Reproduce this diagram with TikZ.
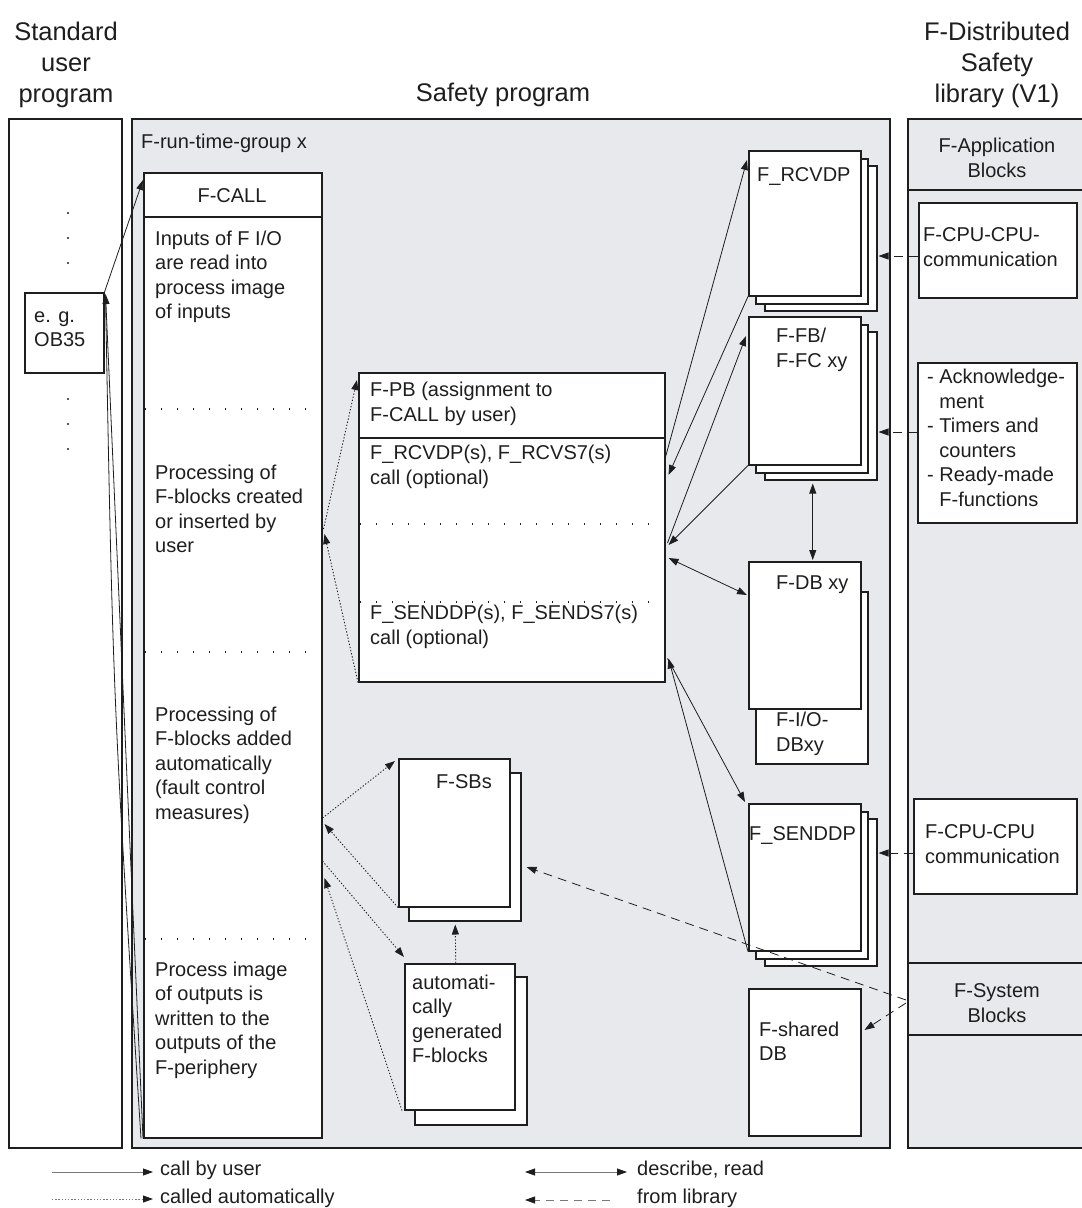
\documentclass[tikz,border=0pt]{standalone}
\usepackage{fontspec}
\setmainfont{Liberation Sans}
\usetikzlibrary{arrows.meta,calc}
\definecolor{panel}{RGB}{232,233,237}
\definecolor{ink}{RGB}{30,30,30}
\definecolor{leg}{RGB}{120,120,120}
\begin{document}
\begin{tikzpicture}[x=1pt,y=-1pt,
  bx/.style={draw=ink,line width=1.5pt,fill=white,inner sep=0pt,anchor=north west},
  pnl/.style={bx,fill=panel},
  tx/.style={inner sep=0pt,align=left,anchor=west,font=\fontsize{20}{24.5}\selectfont,text=ink},
  tb/.style={tx,anchor=base west},
  ttl/.style={inner sep=0pt,align=center,font=\fontsize{25.5}{31}\selectfont,text=ink},
  callarrow/.style={draw=ink,line width=0.8pt,-{Triangle[length=10pt,width=7pt,color=ink]}},
  autoarrow/.style={callarrow,line width=0.9pt,dash pattern=on 1.3pt off 1.9pt},
  libarrow/.style={callarrow,dash pattern=on 9pt off 6pt},
  bothway/.style={draw=ink,line width=0.8pt,{Triangle[length=10pt,width=7pt,color=ink]}-{Triangle[length=10pt,width=7pt,color=ink]}},
  sepline/.style={draw=ink,line width=1.1pt,dash pattern=on 1.3pt off 14.7pt},
  hline/.style={draw=ink,line width=1.5pt},
]
\useasboundingbox (0,0) rectangle (1082,1208);

% titles
\node[ttl] (t1) at (66,65) {Standard\\user\\program};
\node[ttl,anchor=base] (t2) at (503,101) {Safety program};
\node[ttl] (t3) at (997,65) {F-Distributed\\Safety\\library (V1)};

% columns
\node[bx,minimum width=113pt,minimum height=1029pt] (stdcol) at (8,118) {};
\node[pnl,minimum width=758pt,minimum height=1029pt] (safety) at (131,118) {};
\node[pnl,minimum width=177pt,minimum height=1029pt] (lib) at (907,118) {};
\node[pnl,minimum width=177pt,minimum height=71pt] (apphdr) at (907,118) {};
\node[pnl,minimum width=177pt,minimum height=72pt] (sysblk) at (907,962) {};

% standard user program column
\foreach \yy in {213,238,263,399,424,449} \fill[ink] (68,\yy) circle (1.2pt);
\node[bx,minimum width=79pt,minimum height=80pt] (ob35) at (24,292) {};
\node[tx] (ob35t) at (34,329) {e. g.\\OB35};

% safety program
\node[tb] (rtg) at (141,148) {F-run-time-group x};
\node[bx,minimum width=178pt,minimum height=965pt] (fcall) at (143,172) {};
\draw[hline] ($(fcall.north west)+(0,45)$) -- ($(fcall.north east)+(0,45)$);
\node[tx,anchor=base] (fcallt) at (232,202) {F-CALL};
\draw[sepline] ($(fcall.north west)+(2,237)$) -- ($(fcall.north east)+(-2,237)$);
\draw[sepline] ($(fcall.north west)+(2,480)$) -- ($(fcall.north east)+(-2,480)$);
\draw[sepline] ($(fcall.north west)+(2,767)$) -- ($(fcall.north east)+(-2,767)$);
\node[tx] (p1) at (155,277) {Inputs of F I/O\\are read into\\process image\\of inputs};
\node[tx] (p2) at (155,509) {Processing of\\F-blocks created\\or inserted by\\user};
\node[tx] (p3) at (155,765) {Processing of\\F-blocks added\\automatically\\(fault control\\measures)};
\node[tx] (p4) at (155,1020) {Process image\\of outputs is\\written to the\\outputs of the\\F-periphery};

% F-PB
\node[bx,minimum width=306pt,minimum height=309pt] (fpb) at (358,372) {};
\draw[hline] ($(fpb.north west)+(0,66)$) -- ($(fpb.north east)+(0,66)$);
\draw[sepline] ($(fpb.north west)+(2,152)$) -- ($(fpb.north east)+(-8,152)$);
\draw[sepline] ($(fpb.north west)+(2,230)$) -- ($(fpb.north east)+(-8,230)$);
\node[tx] (fpbt) at (370,404) {F-PB (assignment to\\F-CALL by user)};
\node[tx] (rcvt) at (370,467) {F\_RCVDP(s), F\_RCVS7(s)\\call (optional)};
\node[tx] (sndt) at (370,627) {F\_SENDDP(s), F\_SENDS7(s)\\call (optional)};

% F_RCVDP stack
\node[bx,minimum width=112pt,minimum height=145pt] (rcv3) at (764,165) {};
\node[bx,minimum width=112pt,minimum height=145pt] (rcv2) at (755,158) {};
\node[bx,minimum width=112pt,minimum height=145pt] (rcv) at (748,150) {};
\node[tb] (rcvl) at (757,181) {F\_RCVDP};

% F-FB stack
\node[bx,minimum width=112pt,minimum height=148pt] (ffb3) at (764,331) {};
\node[bx,minimum width=112pt,minimum height=148pt] (ffb2) at (755,324) {};
\node[bx,minimum width=112pt,minimum height=148pt] (ffb) at (748,316) {};
\node[tx] (ffbl) at (776,350) {F-FB/\\F-FC xy};

% F-DB
\node[bx,minimum width=112pt,minimum height=172pt] (fio) at (755,591) {};
\node[bx,minimum width=112pt,minimum height=147pt] (fdb) at (748,561) {};
\node[tb] (fdbl) at (776,589) {F-DB xy};
\node[tx] (fiol) at (776,734) {F-I/O-\\DBxy};

% F_SENDDP stack
\node[bx,minimum width=112pt,minimum height=147pt] (snd3) at (764,818) {};
\node[bx,minimum width=112pt,minimum height=147pt] (snd2) at (755,811) {};
\node[bx,minimum width=112pt,minimum height=147pt] (snd) at (748,803) {};
\node[tb] (sndl) at (749,840) {F\_SENDDP};

% F-shared DB
\node[bx,minimum width=112pt,minimum height=147pt] (fshared) at (748,988) {};
\node[tx] (fsharedl) at (759,1041) {F-shared\\DB};

% F-SBs
\node[bx,minimum width=112pt,minimum height=148pt] (sbs2) at (408,772) {};
\node[bx,minimum width=111pt,minimum height=148pt] (sbs) at (398,758) {};
\node[tb] (sbsl) at (436,788) {F-SBs};

% automatically generated
\node[bx,minimum width=112pt,minimum height=148pt] (aut2) at (414,976) {};
\node[bx,minimum width=110pt,minimum height=146pt] (aut) at (404,963) {};
\node[tx] (autl) at (412,1019) {automati-\\cally\\generated\\F-blocks};

% library
\node[tx,anchor=center,align=center] (appl) at (997,158) {F-Application\\Blocks};
\node[bx,minimum width=158pt,minimum height=95pt] (cpua) at (918,202) {};
\node[tx] (cpual) at (923,247) {F-CPU-CPU-\\communication};
\node[bx,minimum width=159pt,minimum height=160pt] (ack) at (917,362) {};
\node[tx] (ackl) at (927,438) {- Acknowledge-\\\phantom{- }ment\\- Timers and\\\phantom{- }counters\\- Ready-made\\\phantom{- }F-functions};
\node[bx,minimum width=163pt,minimum height=95pt] (cpub) at (913,798) {};
\node[tx] (cpubl) at (925,844) {F-CPU-CPU\\communication};
\node[tx,anchor=center,align=center] (sysl) at (997,1003) {F-System\\Blocks};

% connectors: call by user
\draw[callarrow] (ob35.north east) -- ($(fcall.north west)+(0,8)$);
\draw[callarrow] (fcall.south west) -- ($(ob35.north east)+(1,2)$);
\draw[draw=ink,line width=0.8pt] ($(fcall.south west)+(-2,0)$) .. controls (113,700) .. ($(ob35.north east)+(1,4)$);
\draw[callarrow] ($(fpb.north east)+(0,85)$) -- ($(rcv.north west)+(-1,10)$);
\draw[callarrow] (rcv.south west) -- ($(fpb.north east)+(3,103)$);
\draw[callarrow] ($(fpb.north east)+(2,171)$) -- ($(ffb.north west)+(-2,20)$);
\draw[callarrow] (ffb.south west) -- ($(fpb.north east)+(3,173)$);
\draw[bothway] ($(fpb.north east)+(3,186)$) -- ($(fdb.north west)+(-1,34)$);
\draw[bothway] ($(ffb.south)+(8,18)$) -- ($(fdb.north)+(8,-1)$);
\draw[callarrow] ($(fpb.south east)+(2,-24)$) -- ($(snd.north west)+(-3,-1)$);
\draw[callarrow] (snd.south west) -- ($(fpb.south east)+(3,-24)$);

% called automatically
\draw[autoarrow] ($(fcall.north east)+(1,357)$) -- ($(fpb.north west)+(-1,8)$);
\draw[autoarrow] (fpb.south west) -- ($(fcall.north east)+(2,362)$);
\draw[autoarrow] ($(fcall.north east)+(0,646)$) -- ($(sbs.north west)+(-3,3)$);
\draw[autoarrow] (sbs.south west) -- ($(fcall.north east)+(2,652)$);
\draw[autoarrow] ($(fcall.north east)+(0,689)$) -- ($(aut.north west)+(0,-6)$);
\draw[autoarrow] ($(aut.south west)+(-2,0)$) -- ($(fcall.north east)+(2,706)$);
\draw[autoarrow] ($(aut.north)+(-4,0)$) -- ($(sbs.south)+(1,17)$);

% from library
\draw[libarrow] ($(cpua.north west)+(0,54)$) -- ($(rcv3.north east)+(1,91)$);
\draw[libarrow] ($(ack.north west)+(0,70)$) -- ($(ffb3.north east)+(1,101)$);
\draw[libarrow] ($(cpub.north west)+(0,55)$) -- ($(snd3.north east)+(1,35)$);
\draw[libarrow] ($(sysblk.north west)+(-1,38)$) -- ($(sbs2.north east)+(5,95)$);
\draw[libarrow] ($(sysblk.north west)+(-1,41)$) -- ($(fshared.north east)+(3,42)$);

% legend
\coordinate (la1) at (52,1172);
\coordinate (la2) at (153,1172);
\coordinate (lb1) at (52,1199);
\coordinate (lb2) at (153,1199);
\coordinate (lc1) at (525,1172);
\coordinate (lc2) at (627,1172);
\coordinate (ld1) at (525,1200);
\coordinate (ld2) at (610,1200);
\draw[callarrow,draw=leg] (la1) -- (la2);
\draw[autoarrow,draw=leg] (lb1) -- (lb2);
\draw[bothway,draw=leg] (lc1) -- (lc2);
\draw[libarrow,draw=leg,dash pattern=on 8pt off 6pt] (ld2) -- (ld1);
\node[tx] (lat) at (160,1170) {call by user};
\node[tx] (lbt) at (160,1198) {called automatically};
\node[tx] (lct) at (637,1170) {describe, read};
\node[tx] (ldt) at (637,1198) {from library};
\end{tikzpicture}
\end{document}
